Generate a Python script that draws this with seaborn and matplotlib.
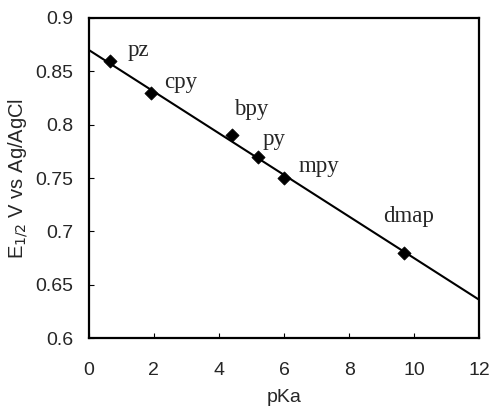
import numpy as np
import pandas as pd
import seaborn as sns
import matplotlib.pyplot as plt

# data
ligands = ['pz', 'cpy', 'bpy', 'py', 'mpy', 'dmap']
pka = [0.65, 1.9, 4.4, 5.2, 6.0, 9.7]
e_half = [0.86, 0.83, 0.79, 0.77, 0.75, 0.68]
fit_x = [0, 12]
fit_y = [0.870, 0.636]
label_x = [1.2, 2.3, 4.45, 5.35, 6.45, 9.05]
label_y = [0.870, 0.840, 0.814, 0.786, 0.761, 0.714]

df = pd.DataFrame({'pKa': pka, 'E': e_half, 'lig': ligands})

sns.set_style('ticks')
plt.rcParams['font.family'] = ['Liberation Sans', 'DejaVu Sans']

fig = plt.figure(figsize=(4.91, 4.09), dpi=100)
ax = fig.add_axes([0.181, 0.173, 0.795, 0.783])

sns.lineplot(x=fit_x, y=fit_y, color='black', lw=1.5, ax=ax)
sns.scatterplot(data=df, x='pKa', y='E', marker='D', s=45, color='black',
                edgecolor='black', ax=ax, zorder=3)

for lx, ly, t in zip(label_x, label_y, ligands):
    ax.text(lx, ly, t, fontsize=16.5, family='Liberation Serif', va='center', ha='left')

ax.set_xlim(0, 12)
ax.set_ylim(0.6, 0.9)
ax.set_xticks(np.arange(0, 13, 2))
ax.set_yticks([0.6, 0.65, 0.7, 0.75, 0.8, 0.85, 0.9])
ax.set_yticklabels(['0.6', '0.65', '0.7', '0.75', '0.8', '0.85', '0.9'])
ax.tick_params(direction='in', length=3.5, width=0.8, labelsize=14, color='black')
ax.tick_params(axis='x', pad=17)
ax.tick_params(axis='y', pad=11)
for sp in ax.spines.values():
    sp.set_linewidth(1.6)
    sp.set_color('black')
ax.set_xlabel('pKa', fontsize=14, labelpad=7)
ax.set_ylabel('E$_{1/2}$ V vs Ag/AgCl', fontsize=14.5, labelpad=4)

fig.savefig('out.png', dpi=100)
